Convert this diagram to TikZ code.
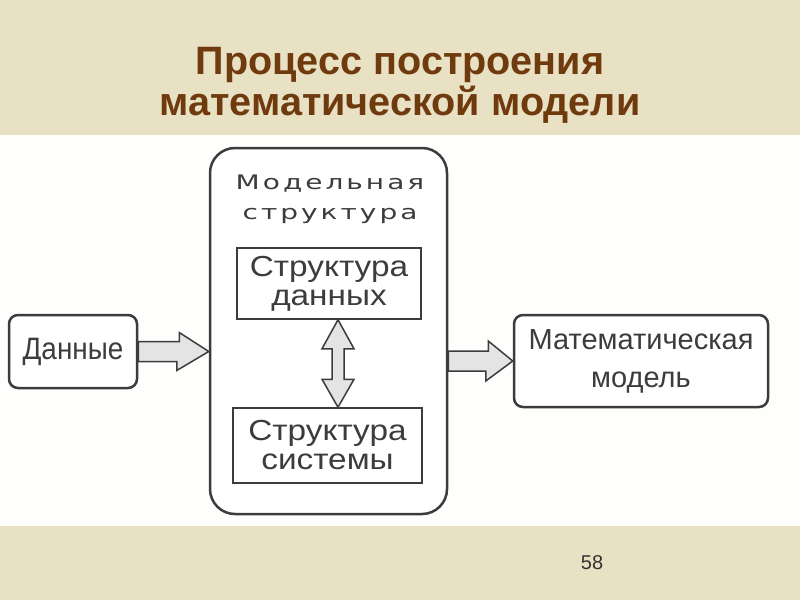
\documentclass[tikz,border=0pt]{standalone}
\usepackage{fontspec}
\setmainfont{Liberation Sans}
\newfontfamily\widefont[FakeStretch=1.4,LetterSpace=15]{DejaVu Sans}
\newfontfamily\narrowfont[FakeStretch=0.9]{Liberation Sans}
\newfontfamily\boxfont[FakeStretch=1.15]{Liberation Sans}
\usetikzlibrary{calc}
\definecolor{fon}{RGB}{232,225,195}
\definecolor{titul}{RGB}{110,58,14}
\definecolor{ink}{RGB}{60,60,60}
\definecolor{zalivka}{RGB}{228,228,228}
\tikzset{
  okno/.style={draw=ink, line width=2.5pt, rounded corners=9pt, fill=white, text=ink, align=center},
  blok/.style={draw=ink, line width=1.5pt, text=ink, align=center, font=\boxfont\fontsize{29}{29}\selectfont},
  strelka/.style={draw=ink, line width=1.5pt, fill=zalivka, line join=miter},
}
\begin{document}
\begin{tikzpicture}[x=1pt,y=-1pt]
        % фон слайда
        \fill[fon] (0,0) rectangle (800,600);
        \useasboundingbox (0,0) rectangle (800,600);
        \node[text=titul, font=\fontsize{39.6}{41}\selectfont\bfseries, align=center] (title) at (400,85) {Процесс построения\\математической модели};
        \fill[white!97!fon] (0,135) rectangle (800,526);
        % блоки
        \node[okno, minimum width=128pt, minimum height=73pt, font=\narrowfont\fontsize{31}{31}\selectfont] (dan) at (73,351.5) {Данные};
        \node[okno, rounded corners=25pt, minimum width=237pt, minimum height=366pt] (model) at (328.5,331) {};
        \node[text=ink, align=center, font=\widefont\fontsize{20}{30}\selectfont] (mtitle) at (330,199) {Модельная\\структура};
        \node[blok, minimum width=184pt, minimum height=71pt] (sd) at (329,283.5) {Структура\\данных};
        \node[blok, minimum width=189pt, minimum height=75pt] (ss) at (327.5,445.5) {Структура\\системы};
        \node[okno, minimum width=254pt, minimum height=92pt, font=\fontsize{29}{38}\selectfont] (mm) at (641,361) {Математическая\\модель};
        % стрелки
        \draw[strelka] ($(dan.east)+(0,-10)$) -- ++(41,0) -- ++(0,-9) -- (model.west |- dan.east) -- ++(-32,19) -- ++(0,-9) -- ($(dan.east)+(0,10)$) -- cycle;
        \draw[strelka] ($(model.east |- mm.west)+(0,-10)$) -- ++(40,0) -- ++(0,-10) -- (mm.west) -- ++(-27,20) -- ++(0,-10) -- ($(model.east |- mm.west)+(0,10)$) -- cycle;
        \path ($(sd.south)+(9,0)$) coordinate (d1) ($(ss.north)+(10.5,0)$) coordinate (d2);
        \draw[strelka] (d1) -- ++(16,29) -- ++(-10,0) -- ($(d2)+(6,-28)$) -- ++(10,0) -- (d2) -- ++(-16,-28) -- ++(10,0) -- ($(d1)+(-6,29)$) -- ++(-10,0) -- cycle;
        % номер слайда
        \node[text=black!80, font=\fontsize{20}{20}\selectfont] (num) at (592,563) {58};
\end{tikzpicture}
\end{document}
